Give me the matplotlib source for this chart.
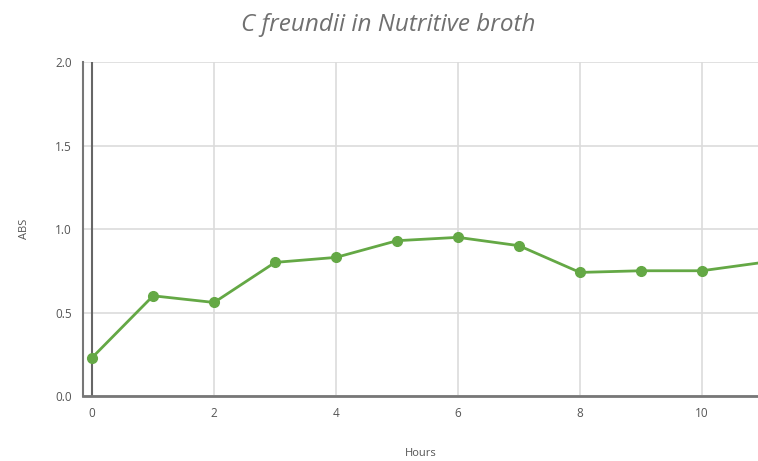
import matplotlib
matplotlib.use("Agg")
import matplotlib.pyplot as plt

hours = [0, 1, 2, 3, 4, 5, 6, 7, 8, 9, 10, 11]
abs_values = [0.23, 0.60, 0.56, 0.80, 0.83, 0.93, 0.95, 0.90, 0.74, 0.75, 0.75, 0.80]
x_ticks = [0, 2, 4, 6, 8, 10]
y_ticks = [0.0, 0.5, 1.0, 1.5, 2.0]

plt.rcParams['font.family'] = ['Open Sans', 'DejaVu Sans']

fig = plt.figure(figsize=(7.58, 4.61), dpi=100)
ax = fig.add_axes([0.1095, 0.141, 0.8905, 0.7245])

ax.set_xlim(-0.15, 10.92)
ax.set_ylim(0, 2.0)
ax.set_xticks(x_ticks)
ax.set_yticks(y_ticks)
ax.set_yticklabels([f"{v:.1f}" for v in y_ticks])

ax.grid(True, color='#dcdcdc', linewidth=1.2)
ax.set_axisbelow(True)
ax.axvline(0, color='#666666', linewidth=1.5, zorder=1)

for s in ['top', 'right']:
    ax.spines[s].set_visible(False)
ax.spines['left'].set_color('#777777')
ax.spines['left'].set_linewidth(1.5)
ax.spines['bottom'].set_color('#777777')
ax.spines['bottom'].set_linewidth(2)

ax.tick_params(axis='both', colors='#555555', labelsize=8.5, length=0, pad=8)

ax.plot(hours, abs_values, color='#64a845', linewidth=2, marker='o',
        markersize=7, clip_on=False, zorder=3)

ax.set_xlabel('Hours', fontsize=8, color='#555555', labelpad=20)
ax.set_ylabel('ABS', fontsize=8, color='#555555', labelpad=18)
fig.text(0.5125, 0.945, 'C freundii in Nutritive broth', ha='center', va='center',
         fontsize=17.5, style='italic', color='#707070')

fig.savefig('out.png', dpi=100)
